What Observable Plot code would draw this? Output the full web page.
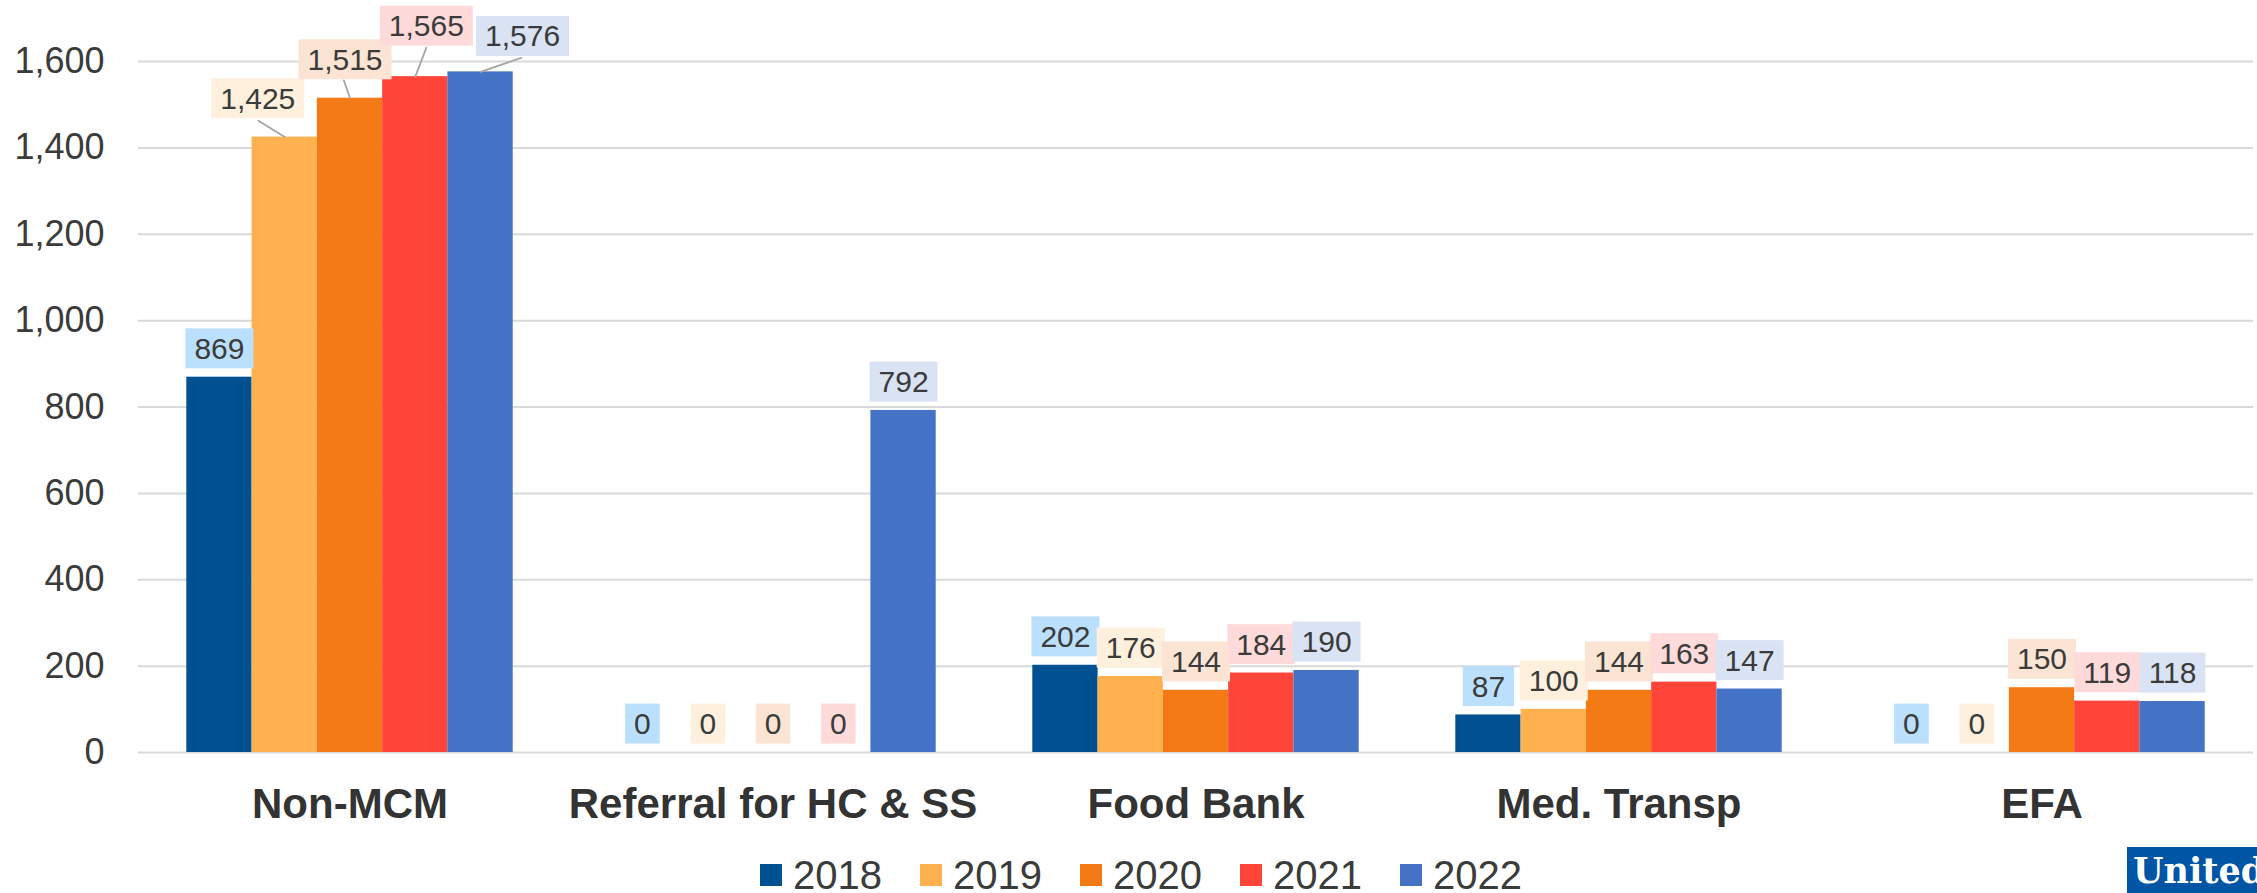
<!DOCTYPE html>
<html>
<head>
<meta charset="utf-8">
<script src="https://cdn.jsdelivr.net/npm/d3@7"></script>
<script src="https://cdn.jsdelivr.net/npm/@observablehq/plot@0.6"></script>
<style>
  html, body { margin: 0; padding: 0; background: #fff; width: 2257px; height: 893px; overflow: hidden; }
  #chart svg { display: block; }
  #legend { position: relative; height: 55px; font-family: "Liberation Sans", Arial, sans-serif; }
  #legend .items { position: absolute; left: 760px; top: 19px; height: 36px; display: flex; align-items: center; }
  #legend .item { display: flex; align-items: center; margin-right: 38px; }
  #legend .sw { width: 22px; height: 22px; margin-right: 11px; }
  #legend .lab { font-size: 40px; color: #3b3b3b; line-height: 1; }
  #logo { position: absolute; left: 2127px; top: 9px; width: 130px; height: 46px; background: #0055A5; overflow: hidden; }
  #logo span { position: absolute; left: 6px; top: 1px; color: #fff; font-family: "DejaVu Serif", serif; font-weight: bold; font-size: 35px; line-height: 46px; white-space: nowrap; }
</style>
</head>
<body>
<div id="chart"></div>
<div id="legend"><div class="items"></div><div id="logo"><span>United</span></div></div>
<script>
// ---- data ----
const categories = ["Non-MCM", "Referral for HC & SS", "Food Bank", "Med. Transp", "EFA"];
const years = ["2018", "2019", "2020", "2021", "2022"];
const values2018 = [869, 0, 202, 87, 0];
const values2019 = [1425, 0, 176, 100, 0];
const values2020 = [1515, 0, 144, 144, 150];
const values2021 = [1565, 0, 184, 163, 119];
const values2022 = [1576, 792, 190, 147, 118];
const yTicks = [0, 200, 400, 600, 800, 1000, 1200, 1400, 1600];

// ---- styles ----
const barColors = ["#005192", "#FFB04F", "#F47A15", "#FF443A", "#4472C4"];
const labelBg = {"2018": "#BBE0FD", "2019": "#FFF0DE", "2020": "#FCE4D4", "2021": "#FFDADA", "2022": "#DAE3F3"};
// label offsets (pixels) and leader lines for the crowded Non-MCM group
const leaderStyle = {
  "2019": {dx: -27, dy: -38, len: 31, rot: -58},
  "2020": {dx: -5, dy: -38, len: 19, rot: -19},
  "2021": {dx: 11, dy: -50, len: 31, rot: 21},
  "2022": {dx: 42, dy: -35, len: 43, rot: 71}
};

const series = [values2018, values2019, values2020, values2021, values2022];
const rows = [];
categories.forEach((c, i) => years.forEach((yr, j) => rows.push({category: c, year: yr, value: series[j][i]})));
const fmt = d3.format(",");
const isLeader = d => d.category === "Non-MCM" && leaderStyle[d.year] !== undefined;
const lineShape = {draw(context, l) { context.moveTo(0, 0); context.lineTo(0, -l); }};
const txtCommon = {fx: "category", x: "year", y: "value", text: d => fmt(d.value), fontSize: 30, fill: "#3b3b3b", lineAnchor: "middle"};

const chart = Plot.plot({
  width: 2257,
  height: 838,
  marginLeft: 137,
  marginRight: 4,
  marginTop: 61,
  marginBottom: 86,
  style: {fontFamily: "'Liberation Sans', Arial, sans-serif", color: "#3b3b3b", overflow: "visible", background: "#fff"},
  fx: {domain: categories, padding: 0, label: null},
  x: {domain: years, paddingInner: 0, paddingOuter: 0.74, axis: null, round: false},
  y: {domain: [0, 1600], label: null},
  color: {domain: years, range: barColors},
  marks: [
    Plot.gridY(yTicks, {stroke: "#d9d9d9", strokeOpacity: 1, strokeWidth: 2}),
    Plot.barY(rows, {fx: "category", x: "year", y: "value", fill: "year"}),
    ...years.map(yr => Plot.text(rows.filter(d => d.year === yr && !isLeader(d)), {...txtCommon, dy: -28, ariaDescription: "lbl-" + yr})),
    ...Object.entries(leaderStyle).map(([yr, s]) => Plot.vector(rows.filter(d => d.category === "Non-MCM" && d.year === yr), {
      fx: "category", x: "year", y: "value", length: s.len, rotate: s.rot, anchor: "start", shape: lineShape, stroke: "#a6a6a6", strokeWidth: 1.8
    })),
    ...Object.entries(leaderStyle).map(([yr, s]) => Plot.text(rows.filter(d => d.category === "Non-MCM" && d.year === yr), {...txtCommon, dx: s.dx, dy: s.dy, ariaDescription: "lbl-" + yr})),
    Plot.axisY(yTicks, {tickSize: 0, tickPadding: 34, fontSize: 36, tickFormat: fmt, label: null}),
    Plot.axisFx({anchor: "bottom", tickSize: 0, tickPadding: 36, fontSize: 42, fontWeight: "bold", fill: "#333", label: null})
  ]
});
document.getElementById("chart").append(chart);

// label backgrounds behind the data-label text
const ns = "http://www.w3.org/2000/svg";
chart.querySelectorAll("g[aria-description^='lbl-']").forEach(g => {
  const yr = g.getAttribute("aria-description").slice(4);
  g.querySelectorAll("text").forEach(t => {
    const parent = t.parentNode;
    const inv = parent.getScreenCTM().inverse();
    const r = t.getBoundingClientRect();
    const p1 = new DOMPoint(r.left, r.top).matrixTransform(inv);
    const p2 = new DOMPoint(r.right, r.bottom).matrixTransform(inv);
    const cy = (p1.y + p2.y) / 2;
    const rect = document.createElementNS(ns, "rect");
    rect.setAttribute("x", p1.x - 9);
    rect.setAttribute("width", p2.x - p1.x + 18);
    rect.setAttribute("y", cy - 20);
    rect.setAttribute("height", 40);
    rect.setAttribute("fill", labelBg[yr]);
    rect.setAttribute("stroke", "none");
    parent.insertBefore(rect, t);
  });
});

// legend
const items = document.querySelector("#legend .items");
years.forEach((yr, i) => {
  const it = document.createElement("div");
  it.className = "item";
  it.innerHTML = `<div class="sw" style="background:${barColors[i]}"></div><div class="lab">${yr}</div>`;
  items.append(it);
});
</script>
</body>
</html>
